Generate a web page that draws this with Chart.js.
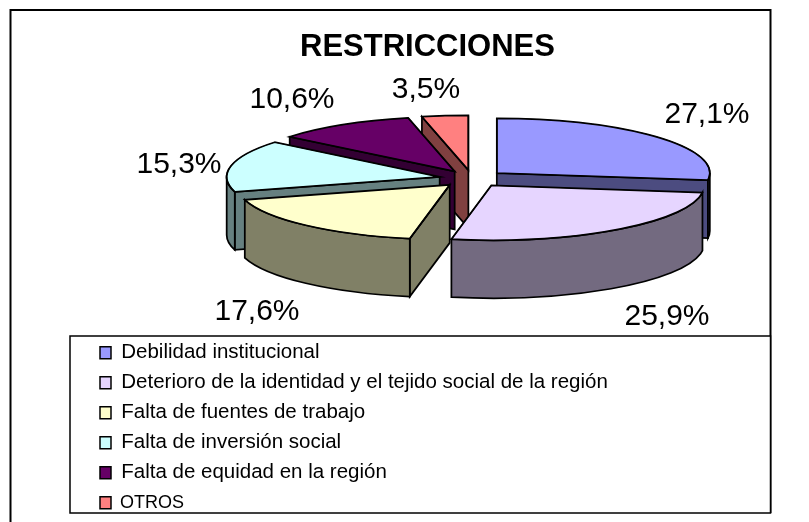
<!DOCTYPE html>
<html><head><meta charset="utf-8">
<style>html,body{margin:0;padding:0;background:#fff}canvas{display:block}</style>
<script src="https://cdn.jsdelivr.net/npm/chart.js@4"></script>
</head><body>
<div style="width:809px;height:522px"><canvas id="c" width="809" height="522"></canvas></div>
<script>
const categories = ["Debilidad institucional","Deterioro de la identidad y el tejido social de la región","Falta de fuentes de trabajo","Falta de inversión social","Falta de equidad en la región","OTROS"];
const values = [27.1,25.9,17.6,15.3,10.6,3.5];
const topColors = ["#9999FF","#E6D5FF","#FFFFCC","#CCFFFF","#660066","#FF8080"];
const sideColors = ["#4C4C80","#736A80","#808066","#668080","#330033","#804040"];
const labelCentres = [[707,115],[667,317],[257,312],[179,165],[292,100],[426,90]];
const drawOrder = [0,5,4,3,2,1];
const PIE = {cx:472, cy:178.6, radius:213, squash:0.257, explode:33, depth:58};

const pie3d = {
  id:'pie3d',
  beforeDraw(chart){
    const c = chart.ctx;
    c.save();
    c.fillStyle='#fff'; c.fillRect(0,0,chart.width,chart.height);
    c.strokeStyle='#000'; c.lineWidth=2;
    c.beginPath(); c.moveTo(10.5,522); c.lineTo(10.5,10); c.lineTo(770.5,10); c.lineTo(770.5,513); c.stroke();
    c.lineWidth=1.5;
    c.fillStyle='#fff';
    c.fillRect(70,336,700.5,177); c.strokeRect(70,336,700.5,177);
    c.restore();
  },
  afterLayout(chart){
    const l = chart.legend;
    const w = l.right-l.left, h = l.bottom-l.top;
    l.left = 90.5; l.right = l.left+w; l.top = 333; l.bottom = l.top+h;
  },
  beforeDatasetDraw(chart,args){
    const c = chart.ctx, arcs = args.meta.data;
    c.lineWidth = 1.75; c.strokeStyle = '#000'; c.lineJoin='miter';
    drawOrder.forEach(i=>{
      const a = arcs[i], s=a.startAngle, e=a.endAngle, mid=(s+e)/2, R=a.outerRadius;
      const ox = PIE.cx+Math.cos(mid)*PIE.explode;
      const oy = PIE.cy+Math.sin(mid)*PIE.explode*PIE.squash;
      const px = t=>ox+Math.cos(t)*R, py = t=>oy+Math.sin(t)*R*PIE.squash;
      const D = PIE.depth;
      const wall = t=>{
        c.beginPath(); c.moveTo(ox,oy); c.lineTo(px(t),py(t)); c.lineTo(px(t),py(t)+D); c.lineTo(ox,oy+D); c.closePath();
        c.fillStyle=sideColors[i]; c.fill(); c.stroke();
      };
      if(Math.sin(e+Math.PI/2)>0) wall(e);
      if(Math.sin(s-Math.PI/2)>0) wall(s);
      // outer rim: the part of the slice facing the viewer
      const ranges=[[0,Math.PI],[2*Math.PI,3*Math.PI]];
      ranges.forEach(([f,g])=>{
        const t0=Math.max(s,f), t1=Math.min(e,g);
        if(t1<=t0) return;
        c.beginPath();
        c.ellipse(ox,oy,R,R*PIE.squash,0,t0,t1);
        c.lineTo(px(t1),py(t1)+D);
        c.ellipse(ox,oy+D,R,R*PIE.squash,0,t1,t0,true);
        c.closePath();
        c.fillStyle=sideColors[i]; c.fill(); c.stroke();
      });
      // top face: the library's own arc, projected
      c.save();
      c.translate(ox,oy); c.scale(1,PIE.squash); c.translate(-a.x,-a.y);
      a.draw(c);
      c.restore();
      c.beginPath(); c.moveTo(ox,oy); c.ellipse(ox,oy,R,R*PIE.squash,0,s,e); c.closePath(); c.stroke();
    });
    return false;
  },
  afterDraw(chart){
    const c = chart.ctx;
    c.save();
    c.fillStyle='#000'; c.font='30px "Liberation Sans"'; c.textAlign='center'; c.textBaseline='middle';
    values.forEach((v,i)=>c.fillText(v.toFixed(1).replace('.',',')+'%',labelCentres[i][0],labelCentres[i][1]));
    // last legend entry is set smaller in the reference
    c.font='18px "Liberation Sans"'; c.textAlign='left';
    c.fillText(categories[5],120,503);
    c.restore();
  }
};

new Chart(document.getElementById('c'),{
  type:'pie',
  plugins:[pie3d],
  data:{labels:categories,datasets:[{data:values,backgroundColor:topColors,borderColor:'#000',borderWidth:1.5}]},
  options:{
    responsive:false,animation:false,radius:PIE.radius,
    layout:{padding:{left:46}},
    plugins:{
      tooltip:{enabled:false},
      title:{display:true,text:'RESTRICCIONES',color:'#000',font:{family:'"Liberation Sans"',size:31,weight:'bold'},padding:{top:29,bottom:0}},
      legend:{position:'left',align:'start',maxWidth:650,
        labels:{color:'#000',boxWidth:11,boxHeight:12,padding:9.5,font:{family:'"Liberation Sans"',size:20.5},
          generateLabels(chart){
            const items = Chart.overrides.pie.plugins.legend.labels.generateLabels(chart);
            items[5].text = '';
            return items;
          }}}
    }
  }
});
</script>
</body></html>
